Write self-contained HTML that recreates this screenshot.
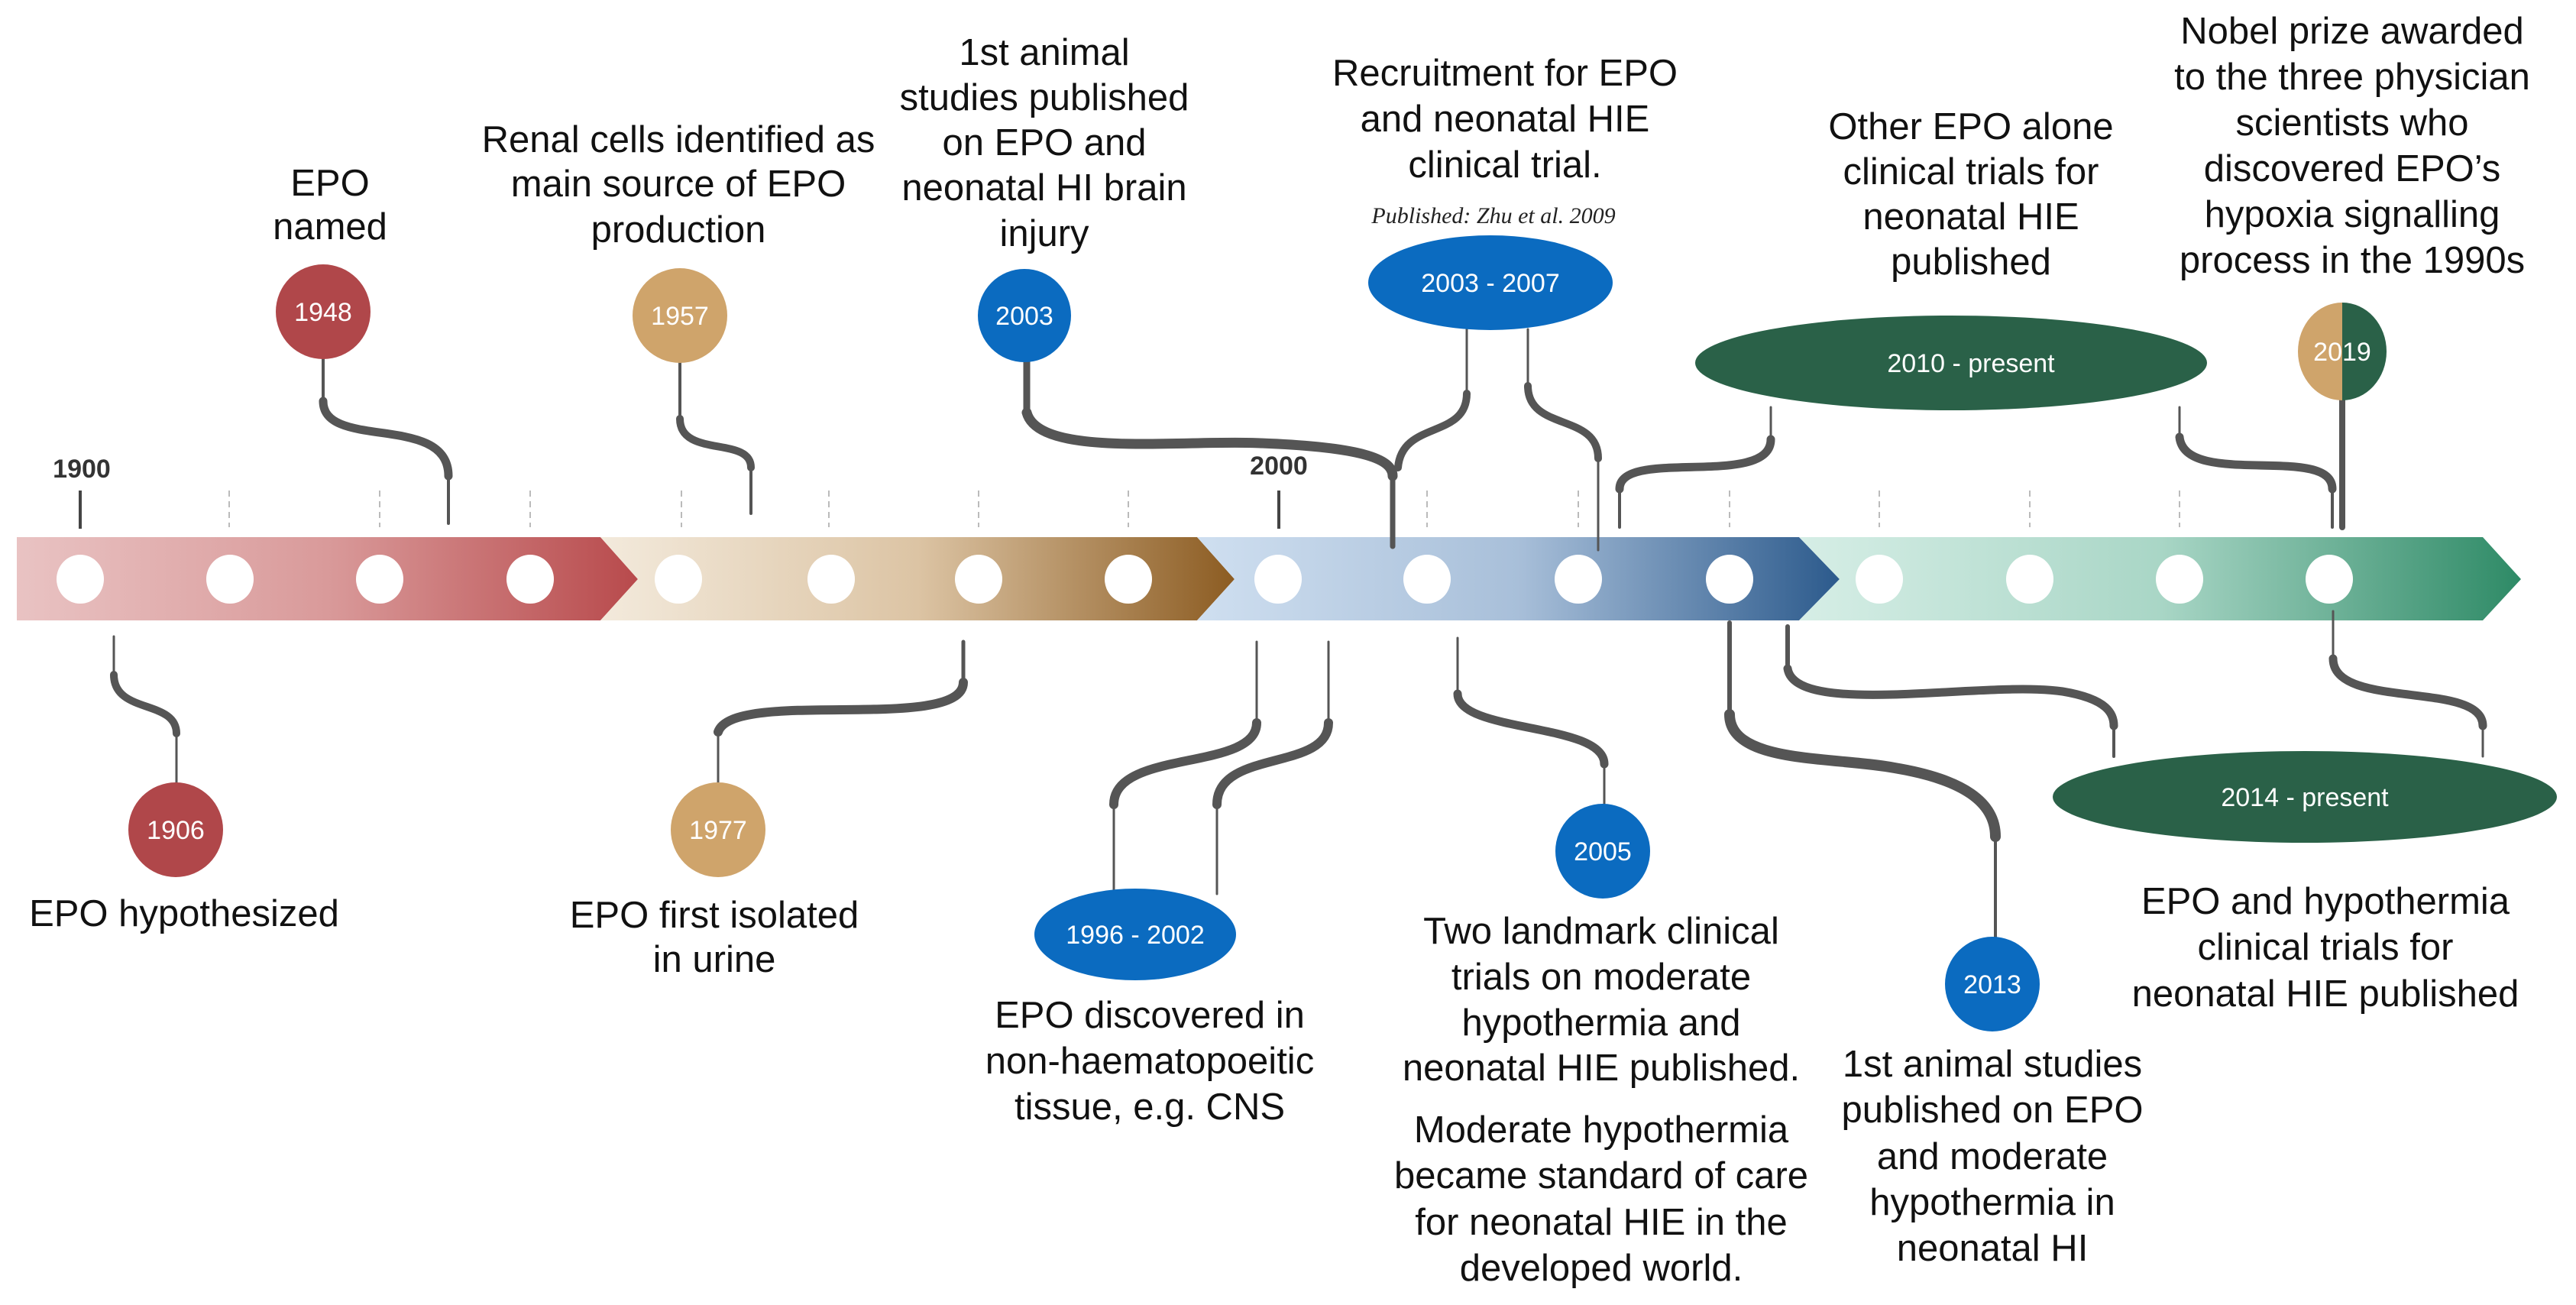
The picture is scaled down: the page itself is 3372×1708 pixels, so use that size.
<!DOCTYPE html>
<html><head><meta charset="utf-8"><style>
html,body{margin:0;padding:0;background:#fff;}
svg{display:block;}
.t{font-family:"Liberation Sans",sans-serif;font-size:49px;fill:#111;text-anchor:middle;}
.w{font-family:"Liberation Sans",sans-serif;font-size:34px;fill:#fff;text-anchor:middle;}
.y{font-family:"Liberation Sans",sans-serif;font-size:34px;font-weight:bold;fill:#333;text-anchor:middle;}
.c{fill:none;stroke:#555;stroke-linecap:round;}
</style></head><body>
<svg width="3372" height="1708" viewBox="0 0 3372 1708" xmlns="http://www.w3.org/2000/svg">
<defs>
<linearGradient id="g1" x1="0" x2="1"><stop offset="0" stop-color="#e9c3c3"/><stop offset="0.5" stop-color="#d99a9a"/><stop offset="1" stop-color="#b84a4c"/></linearGradient>
<linearGradient id="g2" x1="0" x2="1"><stop offset="0" stop-color="#f3eadc"/><stop offset="0.5" stop-color="#dcc4a4"/><stop offset="1" stop-color="#8c5c22"/></linearGradient>
<linearGradient id="g3" x1="0" x2="1"><stop offset="0" stop-color="#cfdff0"/><stop offset="0.5" stop-color="#a8bfd9"/><stop offset="1" stop-color="#2c5a8c"/></linearGradient>
<linearGradient id="g4" x1="0" x2="1"><stop offset="0" stop-color="#d6eee6"/><stop offset="0.5" stop-color="#a9d6c6"/><stop offset="1" stop-color="#2e8a66"/></linearGradient>
</defs>

<g stroke="#bbb" stroke-width="2" stroke-dasharray="8,6">
<line x1="300" y1="642" x2="300" y2="690"/><line x1="497" y1="642" x2="497" y2="690"/><line x1="694" y1="642" x2="694" y2="690"/>
<line x1="892" y1="642" x2="892" y2="690"/><line x1="1085" y1="642" x2="1085" y2="690"/><line x1="1281" y1="642" x2="1281" y2="690"/><line x1="1477" y1="642" x2="1477" y2="690"/>
<line x1="1868" y1="642" x2="1868" y2="690"/><line x1="2066" y1="642" x2="2066" y2="690"/><line x1="2264" y1="642" x2="2264" y2="690"/>
<line x1="2460" y1="642" x2="2460" y2="690"/><line x1="2657" y1="642" x2="2657" y2="690"/><line x1="2853" y1="642" x2="2853" y2="690"/>
</g>
<line x1="105" y1="642" x2="105" y2="692" stroke="#444" stroke-width="4"/>
<line x1="1674" y1="642" x2="1674" y2="692" stroke="#444" stroke-width="4"/>
<text class="y" x="107" y="625">1900</text>
<text class="y" x="1674" y="621">2000</text>

<polygon points="22,703 786,703 835,758 786,812 22,812" fill="url(#g1)"/>
<polygon points="786,703 1567,703 1616,758 1567,812 786,812 835,758" fill="url(#g2)"/>
<polygon points="1567,703 2355,703 2408,758 2355,812 1567,812 1616,758" fill="url(#g3)"/>
<polygon points="2355,703 3250,703 3300,758 3250,812 2355,812 2408,758" fill="url(#g4)"/>
<g fill="#fff">
<ellipse cx="105" cy="758" rx="31" ry="32"/><ellipse cx="301" cy="758" rx="31" ry="32"/><ellipse cx="497" cy="758" rx="31" ry="32"/><ellipse cx="694" cy="758" rx="31" ry="32"/>
<ellipse cx="888" cy="758" rx="31" ry="32"/><ellipse cx="1088" cy="758" rx="31" ry="32"/><ellipse cx="1281" cy="758" rx="31" ry="32"/><ellipse cx="1477" cy="758" rx="31" ry="32"/>
<ellipse cx="1673" cy="758" rx="31" ry="32"/><ellipse cx="1868" cy="758" rx="31" ry="32"/><ellipse cx="2066" cy="758" rx="31" ry="32"/><ellipse cx="2264" cy="758" rx="31" ry="32"/>
<ellipse cx="2460" cy="758" rx="31" ry="32"/><ellipse cx="2657" cy="758" rx="31" ry="32"/><ellipse cx="2853" cy="758" rx="31" ry="32"/><ellipse cx="3049" cy="758" rx="31" ry="32"/>
</g>

<g class="c">
<path d="M423,470 V525" stroke-width="4"/><path d="M423,525 C423,590 587,540 587,623" stroke-width="11"/><path d="M587,623 V685" stroke-width="4"/>
<path d="M890,475 V548" stroke-width="4"/><path d="M890,548 C890,600 983,570 983,612" stroke-width="10"/><path d="M983,612 V672" stroke-width="4"/>
<path d="M1344,473 V540" stroke-width="9"/><path d="M1344,540 C1360,600 1550,575 1650,580 C1780,585 1823,600 1823,623" stroke-width="13"/><path d="M1823,623 V715" stroke-width="7"/>
<path d="M1920,431 V515" stroke-width="3"/><path d="M1920,515 C1920,575 1835,550 1830,612" stroke-width="10"/>
<path d="M2000,431 V505" stroke-width="3"/><path d="M2000,505 C2000,565 2092,540 2092,600" stroke-width="10"/><path d="M2092,600 V720" stroke-width="3"/>
<path d="M2318,533 V575" stroke-width="3"/><path d="M2318,575 C2318,640 2120,585 2120,640" stroke-width="11"/><path d="M2120,640 V690" stroke-width="4"/>
<path d="M2853,533 V572" stroke-width="3"/><path d="M2853,572 C2860,640 3053,580 3053,640" stroke-width="11"/><path d="M3053,640 V690" stroke-width="4"/>
<path d="M3066,518 V690" stroke-width="8"/>
</g>

<g class="c">
<path d="M149,833 V883" stroke-width="3"/><path d="M149,883 C149,935 231,915 231,960" stroke-width="10"/><path d="M231,960 V1024" stroke-width="3"/>
<path d="M1261,840 V893" stroke-width="5"/><path d="M1261,893 C1261,960 960,900 940,958" stroke-width="12"/><path d="M940,958 V1024" stroke-width="3"/>
<path d="M1645,840 V946" stroke-width="3"/><path d="M1645,946 C1645,1010 1458,980 1458,1053" stroke-width="12"/><path d="M1458,1053 V1170" stroke-width="3"/>
<path d="M1739,840 V946" stroke-width="3"/><path d="M1739,946 C1739,1010 1593,980 1593,1053" stroke-width="12"/><path d="M1593,1053 V1170" stroke-width="3"/>
<path d="M1908,835 V908" stroke-width="3"/><path d="M1908,908 C1908,960 2100,945 2100,1000" stroke-width="11"/><path d="M2100,1000 V1052" stroke-width="3"/>
<path d="M2264,815 V935" stroke-width="6"/><path d="M2264,935 C2264,1000 2400,990 2480,1005 C2570,1020 2612,1050 2612,1095" stroke-width="14"/><path d="M2612,1095 V1236" stroke-width="4"/>
<path d="M2340,820 V875" stroke-width="6"/><path d="M2340,875 C2350,940 2600,890 2700,905 C2760,915 2767,935 2767,950" stroke-width="11"/><path d="M2767,950 V990" stroke-width="4"/>
<path d="M3054,800 V862" stroke-width="3"/><path d="M3054,862 C3054,930 3250,890 3250,950" stroke-width="11"/><path d="M3250,950 V990" stroke-width="3"/>
</g>

<circle cx="423" cy="408" r="62" fill="#b0474a"/><text class="w" x="423" y="420">1948</text>
<circle cx="890" cy="413" r="62" fill="#cfa46b"/><text class="w" x="890" y="425">1957</text>
<circle cx="1341" cy="413" r="61" fill="#0b6bc0"/><text class="w" x="1341" y="425">2003</text>
<ellipse cx="1951" cy="370" rx="160" ry="62" fill="#0b6bc0"/><text class="w" x="1951" y="382">2003 - 2007</text>
<ellipse cx="2554" cy="475" rx="335" ry="62" fill="#2a6148"/><text class="w" x="2580" y="487">2010 - present</text>
<path d="M3066,396 A58,64 0 0 0 3066,524 Z" fill="#cfa46b"/><path d="M3066,396 A58,64 0 0 1 3066,524 Z" fill="#2a6148"/><text class="w" x="3066" y="472">2019</text>

<circle cx="230" cy="1086" r="62" fill="#b0474a"/><text class="w" x="230" y="1098">1906</text>
<circle cx="940" cy="1086" r="62" fill="#cfa46b"/><text class="w" x="940" y="1098">1977</text>
<ellipse cx="1486" cy="1223" rx="132" ry="60" fill="#0b6bc0"/><text class="w" x="1486" y="1235">1996 - 2002</text>
<ellipse cx="2098" cy="1114" rx="62" ry="62" fill="#0b6bc0"/><text class="w" x="2098" y="1126">2005</text>
<ellipse cx="2608" cy="1288" rx="62" ry="62" fill="#0b6bc0"/><text class="w" x="2608" y="1300">2013</text>
<ellipse cx="3017" cy="1043" rx="330" ry="60" fill="#2a6148"/><text class="w" x="3017" y="1055">2014 - present</text>

<text class="t" x="432" y="256">EPO</text><text class="t" x="432" y="313">named</text>
<text class="t" x="888" y="199">Renal cells identified as</text><text class="t" x="888" y="257">main source of EPO</text><text class="t" x="888" y="317">production</text>
<text class="t" x="1367" y="85">1st animal</text><text class="t" x="1367" y="144">studies published</text><text class="t" x="1367" y="203">on EPO and</text><text class="t" x="1367" y="262">neonatal HI brain</text><text class="t" x="1367" y="322">injury</text>
<text class="t" x="1970" y="112">Recruitment for EPO</text><text class="t" x="1970" y="172">and neonatal HIE</text><text class="t" x="1970" y="232">clinical trial.</text>
<text x="1955" y="292" style="font-family:'Liberation Serif',serif;font-style:italic;font-size:30px;fill:#222;text-anchor:middle">Published: Zhu et al. 2009</text>
<text class="t" x="2580" y="182">Other EPO alone</text><text class="t" x="2580" y="241">clinical trials for</text><text class="t" x="2580" y="300">neonatal HIE</text><text class="t" x="2580" y="359">published</text>
<text class="t" x="3079" y="57">Nobel prize awarded</text><text class="t" x="3079" y="117">to the three physician</text><text class="t" x="3079" y="177">scientists who</text><text class="t" x="3079" y="237">discovered EPO’s</text><text class="t" x="3079" y="297">hypoxia signalling</text><text class="t" x="3079" y="357">process in the 1990s</text>

<text class="t" x="241" y="1212">EPO hypothesized</text>
<text class="t" x="935" y="1214">EPO first isolated</text><text class="t" x="935" y="1272">in urine</text>
<text class="t" x="1505" y="1345">EPO discovered in</text><text class="t" x="1505" y="1405">non-haematopoeitic</text><text class="t" x="1505" y="1465">tissue, e.g. CNS</text>
<text class="t" x="2096" y="1235">Two landmark clinical</text><text class="t" x="2096" y="1295">trials on moderate</text><text class="t" x="2096" y="1355">hypothermia and</text><text class="t" x="2096" y="1414">neonatal HIE published.</text>
<text class="t" x="2096" y="1495">Moderate hypothermia</text><text class="t" x="2096" y="1555">became standard of care</text><text class="t" x="2096" y="1616">for neonatal HIE in the</text><text class="t" x="2096" y="1676">developed world.</text>
<text class="t" x="2608" y="1409">1st animal studies</text><text class="t" x="2608" y="1469">published on EPO</text><text class="t" x="2608" y="1530">and moderate</text><text class="t" x="2608" y="1590">hypothermia in</text><text class="t" x="2608" y="1650">neonatal HI</text>
<text class="t" x="3044" y="1196">EPO and hypothermia</text><text class="t" x="3044" y="1256">clinical trials for</text><text class="t" x="3044" y="1317">neonatal HIE published</text>
</svg>
</body></html>
